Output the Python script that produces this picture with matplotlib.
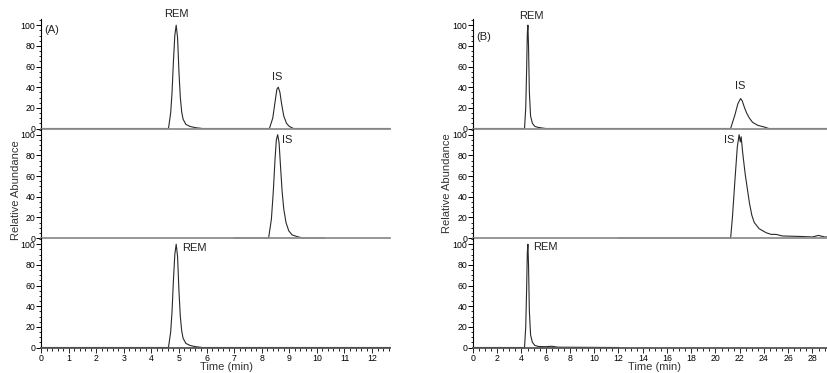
"""plot.py — two stacked SRM chromatograms, REM and IS, two methods (A) and (B)."""

import matplotlib.pyplot as plt
from matplotlib.ticker import MultipleLocator

plt.rcParams["font.family"] = ["Liberation Sans", "DejaVu Sans"]

# (A) traces, time in min, relative abundance in %
a_tic_t = [0, 4.62, 4.70, 4.75, 4.80, 4.85, 4.90, 4.95, 5.00, 5.05, 5.10, 5.15, 5.25, 5.40, 5.60, 5.85,
           8.28, 8.40, 8.48, 8.55, 8.60, 8.66, 8.72, 8.80, 8.90, 9.00, 9.15, 12.65]
a_tic_y = [0, 0, 15, 35, 65, 90, 100, 88, 55, 30, 16, 9, 4, 2, 0.8, 0,
           0, 10, 25, 38, 40, 35, 24, 12, 5, 2, 0, 0]
a_is_t = [7.0, 8.25, 8.35, 8.42, 8.48, 8.53, 8.58, 8.63, 8.68, 8.74, 8.80, 8.88, 8.98, 9.10, 9.30, 9.50, 10.3]
a_is_y = [0, 0, 18, 45, 75, 95, 100, 92, 70, 45, 28, 15, 7, 3, 1.2, 0, 0]
a_rem_t = [0, 4.62, 4.70, 4.75, 4.80, 4.85, 4.90, 4.95, 5.00, 5.05, 5.10, 5.15, 5.25, 5.40, 5.60, 5.85, 12.65]
a_rem_y = [0, 0, 15, 35, 65, 90, 100, 88, 55, 30, 16, 9, 4, 2, 0.8, 0, 0]

# (B) traces
b_tic_t = [0, 4.25, 4.35, 4.42, 4.48, 4.53, 4.58, 4.65, 4.75, 4.90, 5.10, 5.40, 6.0,
           21.25, 21.6, 21.85, 22.07, 22.2, 22.4, 22.57, 22.8, 23.06, 23.5, 24.0, 24.4, 29.2]
b_tic_y = [0, 0, 20, 55, 92, 100, 80, 35, 12, 5, 2, 1, 0,
           0, 13, 24, 29, 27, 20, 15, 10, 6, 3, 1.5, 0, 0]
b_is_t = [12.0, 21.25, 21.4, 21.6, 21.8, 21.95, 22.05, 22.12, 22.25, 22.45, 22.6, 22.8, 23.0, 23.2,
          23.6, 24.2, 24.6, 25.0, 25.5, 26.0, 27.0, 28.0, 28.5, 29.0, 29.2]
b_is_y = [0, 0, 20, 55, 88, 100, 93, 98, 82, 62, 50, 34, 22, 15,
          9, 5, 3.5, 3.5, 2, 1.8, 1.5, 1, 2.5, 1, 1]
b_rem_t = [0, 4.25, 4.35, 4.42, 4.48, 4.53, 4.58, 4.65, 4.75, 4.90, 5.10, 5.40, 6.0, 6.5, 7.0, 12.0]
b_rem_y = [0, 0, 20, 55, 92, 100, 80, 35, 12, 5, 2, 1, 0.8, 1.2, 0.3, 0]

# peak labels: (panel, text, t, y, ha)
a_labels = [(0, "REM", 4.92, 111, "center"), (0, "IS", 8.57, 50, "center"), (0, "(A)", 0.1, 95, "left"),
            (1, "IS", 8.75, 95, "left"), (2, "REM", 5.1, 96, "left")]
b_labels = [(0, "REM", 4.78, 109, "center"), (0, "IS", 22.0, 41, "center"), (0, "(B)", 0.25, 89, "left"),
            (1, "IS", 21.6, 95, "right"), (2, "REM", 4.94, 97, "left")]

W, H = 827, 373
PANEL_H = 109.5


def draw_column(fig, x0, x1, xmax, xmajor, xminor, traces, labels, ylab_xy, xlab_x):
    axes = []
    for i, (t, y) in enumerate(traces):
        bottom = 347.5 - (2 - i) * PANEL_H
        ax = fig.add_axes([x0 / W, 1 - bottom / H, (x1 - x0) / W, PANEL_H / H])
        ax.plot(t, y, color="#2a2a2a", lw=0.8, clip_on=False, zorder=2)
        ax.set_xlim(0, xmax)
        ax.set_ylim(0, 106)
        for s in ("top", "right"):
            ax.spines[s].set_visible(False)
        ax.spines["bottom"].set_color("#8f8f8f" if i < 2 else "#555555")
        ax.spines["bottom"].set_linewidth(1.3)
        ax.spines["bottom"].set_zorder(3)
        ax.spines["left"].set_linewidth(0.8)
        ax.yaxis.set_major_locator(MultipleLocator(20))
        ax.yaxis.set_minor_locator(MultipleLocator(5))
        ax.tick_params(axis="y", which="major", length=3.5, width=0.7, labelsize=6.3, pad=0.5)
        ax.tick_params(axis="y", which="minor", length=1.8, width=0.6)
        if i < 2:
            ax.tick_params(axis="x", which="both", bottom=False, labelbottom=False)
        else:
            ax.xaxis.set_major_locator(MultipleLocator(xmajor))
            ax.xaxis.set_minor_locator(MultipleLocator(xminor))
            ax.tick_params(axis="x", which="major", length=3.5, width=0.7, labelsize=6.3, pad=1,
                           color="#222222")
            ax.tick_params(axis="x", which="minor", length=2, width=0.7, color="#222222")
        ax.patch.set_visible(False)
        axes.append(ax)
    for panel, text, t, y, ha in labels:
        axes[panel].text(t, y, text, ha=ha, va="center", fontsize=8, color="#222222", clip_on=False)
    fig.text(ylab_xy[0] / W, 1 - ylab_xy[1] / H, "Relative Abundance", rotation=90, ha="center",
             va="center", fontsize=8, color="#333333")
    fig.text(xlab_x / W, 1 - 367 / H, "Time (min)", ha="center", va="center", fontsize=8,
             color="#333333")
    return axes


def main():
    fig = plt.figure(figsize=(W / 100, H / 100), dpi=100)
    draw_column(fig, 41, 390, 12.65, 1, 0.2,
                [(a_tic_t, a_tic_y), (a_is_t, a_is_y), (a_rem_t, a_rem_y)], a_labels, (16, 190), 226)
    draw_column(fig, 473, 827, 29.2, 2, 0.5,
                [(b_tic_t, b_tic_y), (b_is_t, b_is_y), (b_rem_t, b_rem_y)], b_labels, (447, 183), 655)
    fig.savefig("out.png", dpi=100)
    plt.close(fig)


if __name__ == "__main__":
    main()
